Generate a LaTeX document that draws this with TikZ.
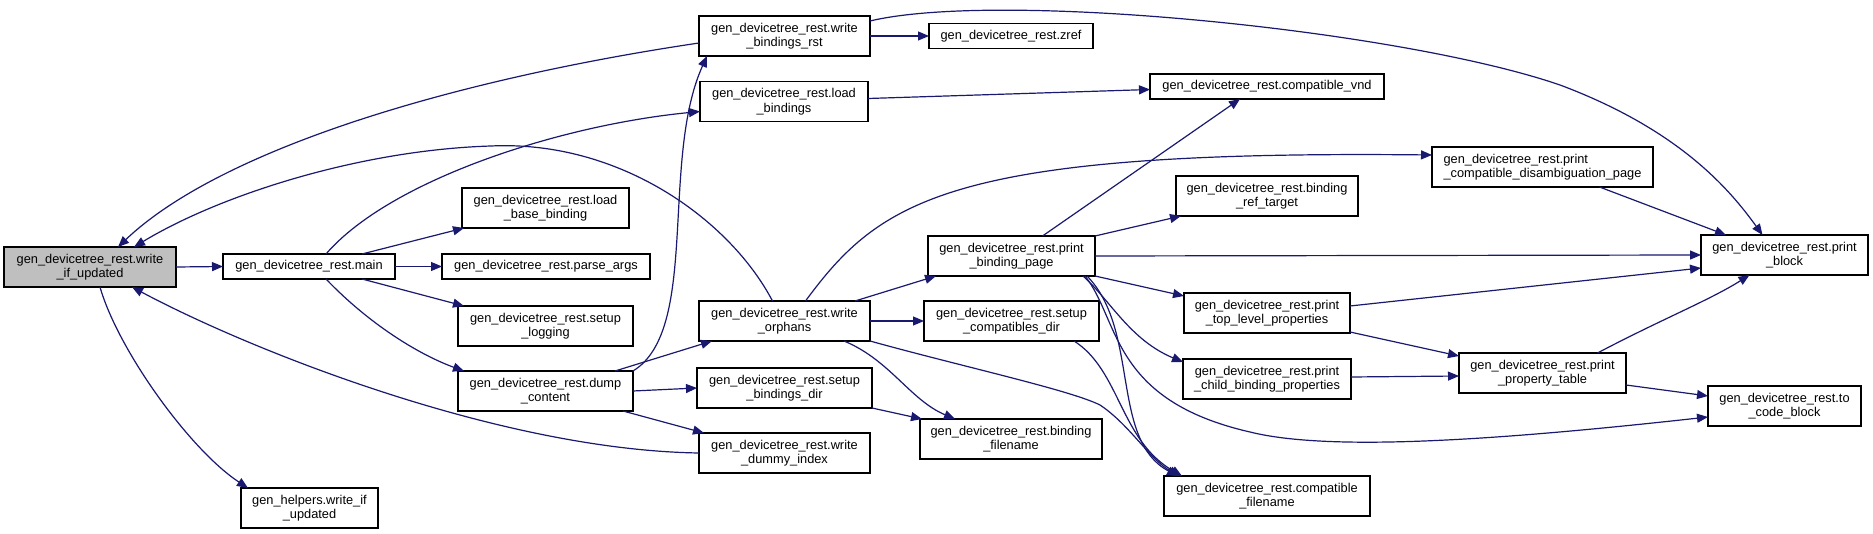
\documentclass[tikz,border=0pt]{standalone}
\usepackage{fontspec}
\setmainfont{Liberation Sans}
\usetikzlibrary{arrows.meta,calc}
\definecolor{edgeblue}{RGB}{25,25,112}
\definecolor{focusgrey}{RGB}{191,191,191}
\begin{document}
\begin{tikzpicture}[x=1pt,y=-1pt,
  box/.style={draw=black,line width=1.2pt,fill=white,inner sep=0pt,outer sep=0pt,align=center,
    font=\fontsize{12.8}{14.5}\selectfont,minimum height=40pt},
  onebox/.style={box,minimum height=25pt},
  call/.style={draw=edgeblue,line width=1.2pt,-{Triangle[length=11pt,width=9pt]}}]
\useasboundingbox (0,0) rectangle (1873,534);
\fill[white] (0,0) rectangle (1873,534);
% nodes
\node[box,fill=focusgrey,minimum width=172pt] (wiu) at (90,267) {gen\_devicetree\_rest.write\\\_if\_updated};
\node[onebox,minimum width=172pt] (main) at (309,266.5) {gen\_devicetree\_rest.main};
\node[box,minimum width=167pt] (lbb) at (545.5,208) {gen\_devicetree\_rest.load\\\_base\_binding};
\node[onebox,minimum width=208pt] (pa) at (546,266.5) {gen\_devicetree\_rest.parse\_args};
\node[box,minimum width=175pt] (sl) at (545.5,326) {gen\_devicetree\_rest.setup\\\_logging};
\node[box,minimum width=175pt] (dc) at (545.5,391) {gen\_devicetree\_rest.dump\\\_content};
\node[box,minimum width=137pt] (ghw) at (309.5,508) {gen\_helpers.write\_if\\\_updated};
\node[box,minimum width=171pt] (wbr) at (784.5,36) {gen\_devicetree\_rest.write\\\_bindings\_rst};
\node[onebox,minimum width=164pt] (zref) at (1011,36) {gen\_devicetree\_rest.zref};
\node[box,minimum width=168pt] (lb) at (784,101.5) {gen\_devicetree\_rest.load\\\_bindings};
\node[onebox,minimum width=234pt] (cvnd) at (1267,86.5) {gen\_devicetree\_rest.compatible\_vnd};
\node[box,minimum width=182pt] (brt) at (1267,196) {gen\_devicetree\_rest.binding\\\_ref\_target};
\node[box,minimum width=167pt] (pbp) at (1011.5,256) {gen\_devicetree\_rest.print\\\_binding\_page};
\node[box,minimum width=171pt] (wo) at (784.5,321) {gen\_devicetree\_rest.write\\\_orphans};
\node[box,minimum width=175pt] (scd) at (1011.5,321) {gen\_devicetree\_rest.setup\\\_compatibles\_dir};
\node[box,minimum width=175pt] (sbd) at (784.5,388) {gen\_devicetree\_rest.setup\\\_bindings\_dir};
\node[box,minimum width=171pt] (wdi) at (784.5,453) {gen\_devicetree\_rest.write\\\_dummy\_index};
\node[box,minimum width=182pt] (bf) at (1011,439) {gen\_devicetree\_rest.binding\\\_filename};
\node[box,minimum width=166pt] (ptlp) at (1267,313) {gen\_devicetree\_rest.print\\\_top\_level\_properties};
\node[box,minimum width=168pt] (pcbp) at (1267,379) {gen\_devicetree\_rest.print\\\_child\_binding\_properties};
\node[box,minimum width=206pt] (cf) at (1267,496) {gen\_devicetree\_rest.compatible\\\_filename};
\node[box,minimum width=221pt,align=left] (pcdp) at (1542.5,167) {gen\_devicetree\_rest.print\\\_compatible\_disambiguation\_page};
\node[box,minimum width=167pt] (pb) at (1784.5,255) {gen\_devicetree\_rest.print\\\_block};
\node[box,minimum width=167pt] (ppt) at (1542.5,373) {gen\_devicetree\_rest.print\\\_property\_table};
\node[box,minimum width=153pt] (tcb) at (1784.5,406) {gen\_devicetree\_rest.to\\\_code\_block};
% edges
\draw[call] (wiu.east) -- (main.west);
\draw[call] ($(wiu.south)+(10,0)$) .. controls (118,350) and (190,450) .. ($(ghw.north west)+(7,0)$);
\draw[call] ($(main.north)+(17,0)$) .. controls (390,180) and (560,125) .. ($(lb.west)+(0,10)$);
\draw[call] ($(main.north)+(53,0)$) -- ($(lbb.south west)+(2,0)$);
\draw[call] (main.east) -- (pa.west);
\draw[call] ($(main.south)+(53,0)$) -- ($(sl.north west)+(6,0)$);
\draw[call] ($(main.south)+(17,0)$) .. controls (370,325) and (420,355) .. ($(dc.north west)+(6,0)$);
\draw[call] ($(wbr.west)+(0,7)$) .. controls (450,80) and (220,150) .. ($(wiu.north)+(28,0)$);
\draw[call] ($(wo.north)+(-12,0)$) .. controls (730,220) and (620,140) .. (491,146) .. controls (360,150) and (220,195) .. ($(wiu.north)+(44,0)$);
\draw[call] (wdi.west) .. controls (500,450) and (250,350) .. ($(wiu.south)+(42,0)$);
\draw[call] (dc.north east) .. controls (700,330) and (660,160) .. ($(wbr.south west)+(8,0)$);
\draw[call] ($(dc.north east)+(-18,0)$) -- ($(wo.south west)+(13,0)$);
\draw[call] (dc.east) -- (sbd.west);
\draw[call] ($(dc.south east)+(-10,0)$) -- ($(wdi.north west)+(5,0)$);
\draw[call] (wbr.east) -- (zref.west);
\draw[call] ($(wbr.north east)+(0,5)$) .. controls (1000,-10) and (1400,30) .. (1560,85) .. controls (1680,130) and (1730,190) .. ($(pb.north)+(-22,0)$);
\draw[call] ($(lb.east)+(0,-3)$) -- ($(cvnd.west)+(0,3)$);
\draw[call] ($(pbp.north)+(31,0)$) -- ($(cvnd.south)+(-27,0)$);
\draw[call] ($(wo.north)+(21,0)$) .. controls (880,200) and (950,150) .. ($(pcdp.west)+(0,-12)$);
\draw[call] ($(wo.north east)+(-15,0)$) -- ($(pbp.south west)+(8,0)$);
\draw[call] (wo.east) -- (scd.west);
\draw[call] ($(wo.south east)+(-26,0)$) .. controls (890,360) and (910,400) .. ($(bf.north west)+(35,0)$);
\draw[call] (wo.south east) .. controls (960,366) and (1070,390) .. (1100,405) .. controls (1130,425) and (1150,460) .. ($(cf.north west)+(16,0)$);
\draw[call] (sbd.south east) -- ($(bf.north west)+(2,0)$);
\draw[call] ($(scd.south east)+(-25,0)$) .. controls (1120,370) and (1120,440) .. ($(cf.north west)+(18,0)$);
\draw[call] (pbp.north east) -- ($(brt.south west)+(5,0)$);
\draw[call] (pbp.east) -- (pb.west);
\draw[call] (pbp.south east) -- ($(ptlp.west)+(0,-17)$);
\draw[call] ($(pbp.south east)+(-12,0)$) .. controls (1110,300) and (1130,340) .. ($(pcbp.west)+(0,-17)$);
\draw[call] ($(pbp.south east)+(-10,0)$) .. controls (1120,320) and (1110,400) .. (1250,432) .. controls (1330,452) and (1500,440) .. ($(tcb.west)+(0,11)$);
\draw[call] ($(pbp.south east)+(-8,0)$) .. controls (1140,330) and (1110,440) .. ($(cf.north west)+(14,0)$);
\draw[call] ($(pcdp.south)+(57,0)$) -- ($(pb.north west)+(25,0)$);
\draw[call] ($(ptlp.east)+(0,-7)$) -- ($(pb.west)+(0,13)$);
\draw[call] ($(ptlp.south east)+(0,-1)$) -- ($(ppt.north west)+(0,3)$);
\draw[call] ($(pcbp.east)+(0,-2)$) -- ($(ppt.west)+(0,3)$);
\draw[call] ($(ppt.north)+(55,0)$) .. controls (1660,320) and (1710,300) .. ($(pb.south)+(-35,0)$);
\draw[call] ($(ppt.east)+(0,12)$) -- ($(tcb.west)+(0,-10)$);
\end{tikzpicture}
\end{document}
